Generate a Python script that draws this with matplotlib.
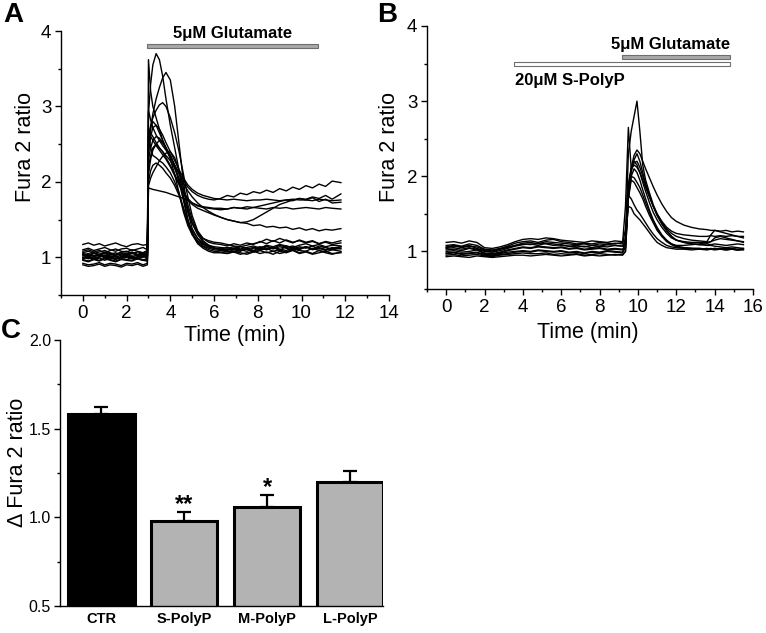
import matplotlib
matplotlib.use('Agg')
import matplotlib.pyplot as plt
from matplotlib.ticker import MultipleLocator

plt.rcParams['font.family'] = ['Liberation Sans', 'DejaVu Sans']

# ---------------- panel A: 5 uM glutamate alone ----------------
t_a = [0, 0.25, 0.5, 0.75, 1.0, 1.25, 1.5, 1.75, 2.0, 2.25, 2.5, 2.75, 2.95,
       3.0, 3.1, 3.2, 3.35, 3.5, 3.65, 3.8, 4.0, 4.2, 4.4, 4.6, 4.8, 5.0, 5.25, 5.5, 5.75, 6.0,
       6.3, 6.6, 6.9, 7.2, 7.5, 7.8, 8.1, 8.4, 8.7, 9.0, 9.3, 9.6, 9.9, 10.2, 10.5, 10.8, 11.1, 11.4, 11.8]

cells_a = [
    [1.17, 1.19, 1.16, 1.18, 1.15, 1.17, 1.19, 1.16, 1.14, 1.17, 1.18, 1.16, 1.17,
     2.95, 2.82, 2.72, 2.62, 2.55, 2.48, 2.42, 2.33, 2.22, 2.12, 2.02, 1.93, 1.87, 1.82, 1.79, 1.77, 1.76,
     1.78, 1.82, 1.80, 1.85, 1.83, 1.87, 1.85, 1.89, 1.86, 1.91, 1.88, 1.93, 1.90, 1.95, 1.92, 1.97, 1.94, 2.01, 1.99],
    [1.02, 1.04, 1.01, 1.03, 1.05, 1.02, 1.00, 1.03, 1.04, 1.01, 1.03, 1.02, 1.04,
     2.40, 2.60, 2.72, 2.75, 2.70, 2.62, 2.52, 2.40, 2.28, 2.16, 2.05, 1.96, 1.90, 1.85, 1.82, 1.80, 1.78,
     1.77, 1.76, 1.77, 1.76, 1.75, 1.76, 1.76, 1.77, 1.76, 1.75, 1.76, 1.77, 1.76, 1.76, 1.75, 1.77, 1.76, 1.75, 1.76],
    [0.97, 0.95, 0.98, 0.96, 0.99, 0.97, 0.95, 0.98, 0.97, 0.96, 0.99, 0.97, 0.96,
     1.92, 1.91, 1.90, 1.89, 1.88, 1.87, 1.86, 1.84, 1.82, 1.80, 1.78, 1.75, 1.72, 1.69, 1.67, 1.66, 1.65,
     1.65, 1.64, 1.66, 1.65, 1.64, 1.66, 1.65, 1.64, 1.66, 1.65, 1.66, 1.64, 1.65, 1.66, 1.65, 1.64, 1.66, 1.65, 1.64],
    [1.08, 1.10, 1.07, 1.09, 1.06, 1.09, 1.11, 1.08, 1.07, 1.10, 1.08, 1.06, 1.09,
     2.30, 2.45, 2.55, 2.60, 2.58, 2.52, 2.45, 2.35, 2.22, 2.10, 1.98, 1.88, 1.80, 1.72, 1.66, 1.61, 1.57,
     1.53, 1.50, 1.48, 1.46, 1.45, 1.42, 1.43, 1.40, 1.41, 1.39, 1.40, 1.37, 1.39, 1.36, 1.38, 1.35, 1.37, 1.36, 1.38],
    [1.05, 1.03, 1.06, 1.04, 1.07, 1.05, 1.03, 1.06, 1.05, 1.07, 1.04, 1.06, 1.05,
     2.50, 2.60, 2.55, 2.48, 2.42, 2.36, 2.30, 2.20, 2.08, 1.96, 1.85, 1.76, 1.70, 1.65, 1.62, 1.59, 1.56,
     1.53, 1.50, 1.48, 1.46, 1.47, 1.50, 1.55, 1.60, 1.65, 1.70, 1.73, 1.76, 1.78, 1.77, 1.80, 1.78, 1.82, 1.77, 1.84],
    [0.99, 1.01, 0.98, 1.00, 1.02, 0.99, 0.97, 1.00, 1.01, 0.98, 1.00, 1.02, 0.99,
     2.20, 2.35, 2.45, 2.50, 2.45, 2.40, 2.32, 2.22, 2.10, 1.98, 1.87, 1.78, 1.72, 1.68, 1.66, 1.65, 1.64,
     1.63, 1.64, 1.66, 1.65, 1.67, 1.66, 1.68, 1.70, 1.72, 1.74, 1.76, 1.75, 1.78, 1.76, 1.79, 1.74, 1.77, 1.72, 1.73],
    [1.00, 0.98, 1.01, 1.03, 0.99, 1.01, 1.02, 0.99, 1.00, 1.02, 0.98, 1.01, 1.00,
     3.62, 3.20, 3.00, 2.85, 2.70, 2.55, 2.45, 2.30, 2.10, 1.85, 1.60, 1.42, 1.30, 1.22, 1.17, 1.14, 1.12,
     1.11, 1.13, 1.10, 1.14, 1.12, 1.09, 1.13, 1.15, 1.11, 1.14, 1.12, 1.10, 1.14, 1.12, 1.15, 1.11, 1.13, 1.10, 1.12],
    [1.03, 1.05, 1.02, 1.04, 1.01, 1.04, 1.06, 1.03, 1.02, 1.05, 1.03, 1.04, 1.02,
     2.90, 3.30, 3.55, 3.70, 3.62, 3.40, 3.10, 2.75, 2.45, 2.15, 1.80, 1.50, 1.32, 1.20, 1.15, 1.12, 1.10,
     1.09, 1.07, 1.10, 1.08, 1.11, 1.07, 1.09, 1.12, 1.08, 1.10, 1.07, 1.11, 1.09, 1.08, 1.12, 1.09, 1.07, 1.10, 1.08],
    [0.96, 0.94, 0.97, 0.95, 0.98, 0.96, 0.94, 0.97, 0.96, 0.95, 0.98, 0.96, 0.95,
     2.40, 2.70, 2.90, 3.10, 3.25, 3.38, 3.45, 3.35, 3.00, 2.50, 2.00, 1.60, 1.38, 1.25, 1.18, 1.14, 1.12,
     1.11, 1.09, 1.12, 1.10, 1.08, 1.12, 1.14, 1.10, 1.13, 1.11, 1.09, 1.13, 1.11, 1.14, 1.10, 1.12, 1.09, 1.13, 1.11],
    [1.06, 1.08, 1.05, 1.07, 1.09, 1.06, 1.04, 1.07, 1.08, 1.05, 1.07, 1.06, 1.08,
     2.60, 2.75, 2.85, 2.95, 3.02, 3.05, 3.00, 2.85, 2.65, 2.40, 2.10, 1.80, 1.55, 1.35, 1.25, 1.20, 1.18,
     1.17, 1.15, 1.18, 1.16, 1.19, 1.17, 1.21, 1.18, 1.22, 1.19, 1.23, 1.20, 1.22, 1.19, 1.21, 1.18, 1.20, 1.17, 1.19],
    [0.92, 0.90, 0.91, 0.93, 0.90, 0.92, 0.91, 0.89, 0.92, 0.91, 0.93, 0.90, 0.92,
     2.50, 2.72, 2.80, 2.75, 2.65, 2.55, 2.45, 2.35, 2.20, 2.00, 1.75, 1.50, 1.32, 1.20, 1.14, 1.10, 1.08,
     1.07, 1.05, 1.08, 1.06, 1.04, 1.07, 1.09, 1.06, 1.08, 1.05, 1.07, 1.10, 1.06, 1.08, 1.05, 1.09, 1.06, 1.04, 1.07],
    [1.10, 1.12, 1.09, 1.11, 1.13, 1.10, 1.08, 1.11, 1.12, 1.09, 1.11, 1.13, 1.10,
     2.10, 2.30, 2.42, 2.50, 2.55, 2.52, 2.45, 2.35, 2.20, 2.02, 1.80, 1.60, 1.45, 1.32, 1.25, 1.22, 1.20,
     1.19, 1.17, 1.15, 1.14, 1.16, 1.18, 1.20, 1.24, 1.21, 1.25, 1.22, 1.19, 1.23, 1.20, 1.22, 1.18, 1.21, 1.19, 1.22],
    [0.98, 1.00, 0.97, 0.99, 0.96, 0.99, 1.01, 0.98, 0.97, 1.00, 0.98, 0.96, 0.99,
     1.95, 2.05, 2.12, 2.20, 2.28, 2.34, 2.38, 2.40, 2.32, 2.15, 1.92, 1.70, 1.50, 1.33, 1.22, 1.16, 1.12,
     1.10, 1.08, 1.07, 1.09, 1.11, 1.08, 1.12, 1.10, 1.13, 1.09, 1.15, 1.12, 1.10, 1.14, 1.11, 1.13, 1.10, 1.12, 1.14],
    [0.90, 0.88, 0.89, 0.91, 0.88, 0.90, 0.89, 0.87, 0.90, 0.89, 0.91, 0.88, 0.90,
     2.70, 2.45, 2.35, 2.32, 2.28, 2.25, 2.20, 2.12, 2.00, 1.85, 1.65, 1.45, 1.30, 1.18, 1.12, 1.08, 1.06,
     1.06, 1.05, 1.07, 1.04, 1.06, 1.08, 1.05, 1.07, 1.04, 1.08, 1.06, 1.09, 1.05, 1.07, 1.04, 1.06, 1.08, 1.05, 1.06],
    [1.00, 1.02, 0.99, 1.01, 1.03, 1.00, 0.98, 1.01, 1.02, 0.99, 1.01, 1.00, 1.02,
     2.00, 2.15, 2.22, 2.25, 2.22, 2.18, 2.12, 2.05, 1.95, 1.82, 1.65, 1.48, 1.35, 1.25, 1.18, 1.14, 1.12,
     1.11, 1.10, 1.12, 1.09, 1.11, 1.13, 1.10, 1.14, 1.12, 1.16, 1.13, 1.15, 1.12, 1.14, 1.11, 1.15, 1.13, 1.11, 1.14],
    [1.04, 1.02, 1.05, 1.03, 1.06, 1.04, 1.02, 1.05, 1.04, 1.06, 1.03, 1.05, 1.04,
     2.50, 2.65, 2.60, 2.52, 2.45, 2.40, 2.35, 2.28, 2.18, 2.05, 1.88, 1.65, 1.45, 1.30, 1.20, 1.16, 1.14,
     1.13, 1.12, 1.14, 1.11, 1.13, 1.15, 1.12, 1.16, 1.14, 1.17, 1.15, 1.13, 1.16, 1.18, 1.15, 1.17, 1.14, 1.16, 1.15],
]
glu_a = (2.95, 10.75)

# ---------------- panel B: S-PolyP then glutamate ----------------
t_b = [0, 0.4, 0.8, 1.2, 1.6, 2.0, 2.4, 2.8, 3.2, 3.6, 4.0, 4.4, 4.8, 5.2, 5.6, 6.0,
       6.4, 6.8, 7.2, 7.6, 8.0, 8.4, 8.8, 9.2,
       9.35, 9.5, 9.65, 9.8, 9.95, 10.1, 10.25, 10.4, 10.6, 10.8, 11.0, 11.25, 11.5, 11.75, 12.0,
       12.4, 12.8, 13.2, 13.6, 13.8, 14.0, 14.3, 14.6, 14.9, 15.2, 15.5]

cells_b = [
    [1.05, 1.07, 1.06, 1.08, 1.04, 1.01, 0.99, 1.03, 1.06, 1.08, 1.10, 1.09, 1.11, 1.10, 1.08, 1.09,
     1.07, 1.08, 1.06, 1.08, 1.07, 1.09, 1.08, 1.07,
     1.15, 2.30, 2.60, 2.80, 3.00, 2.60, 2.15, 1.95, 1.78, 1.62, 1.50, 1.38, 1.28, 1.20, 1.15,
     1.12, 1.10, 1.09, 1.10, 1.09, 1.10, 1.09, 1.08, 1.09, 1.10, 1.09],
    [1.12, 1.13, 1.11, 1.14, 1.12, 1.05, 1.04, 1.06, 1.09, 1.13, 1.16, 1.17, 1.16, 1.18, 1.17, 1.15,
     1.14, 1.13, 1.12, 1.14, 1.13, 1.12, 1.14, 1.13,
     1.15, 1.85, 2.12, 2.28, 2.35, 2.30, 2.20, 2.10, 1.98, 1.86, 1.75, 1.63, 1.53, 1.45, 1.40,
     1.35, 1.32, 1.30, 1.29, 1.28, 1.28, 1.27, 1.28, 1.26, 1.27, 1.26],
    [1.08, 1.09, 1.07, 1.10, 1.08, 1.03, 1.02, 1.04, 1.07, 1.11, 1.13, 1.14, 1.12, 1.15, 1.16, 1.13,
     1.12, 1.10, 1.11, 1.10, 1.12, 1.11, 1.10, 1.12,
     1.60, 2.65, 2.10, 2.18, 2.20, 2.12, 2.00, 1.88, 1.74, 1.60, 1.48, 1.38, 1.30, 1.24, 1.20,
     1.17, 1.15, 1.14, 1.13, 1.22, 1.28, 1.26, 1.24, 1.22, 1.20, 1.18],
    [1.02, 1.03, 1.01, 1.04, 1.02, 0.98, 0.97, 0.99, 1.02, 1.04, 1.06, 1.05, 1.07, 1.06, 1.05, 1.06,
     1.04, 1.05, 1.03, 1.04, 1.05, 1.03, 1.04, 1.03,
     1.08, 1.75, 2.05, 2.22, 2.30, 2.20, 2.05, 1.90, 1.74, 1.60, 1.48, 1.36, 1.27, 1.20, 1.15,
     1.12, 1.10, 1.09, 1.08, 1.08, 1.07, 1.06, 1.05, 1.06, 1.05, 1.04],
    [0.98, 0.99, 0.97, 0.98, 0.99, 0.96, 0.95, 0.97, 0.99, 1.00, 1.01, 1.00, 1.02, 1.01, 1.00, 1.01,
     0.99, 1.00, 0.98, 1.00, 0.99, 1.01, 1.00, 0.99,
     1.05, 1.80, 2.10, 2.20, 2.15, 2.05, 1.92, 1.80, 1.65, 1.52, 1.42, 1.32, 1.24, 1.18, 1.15,
     1.13, 1.12, 1.12, 1.11, 1.13, 1.18, 1.20, 1.18, 1.16, 1.14, 1.13],
    [0.95, 0.96, 0.94, 0.95, 0.96, 0.94, 0.93, 0.95, 0.96, 0.97, 0.98, 0.97, 0.97, 0.98, 0.96, 0.97,
     0.96, 0.97, 0.95, 0.96, 0.97, 0.96, 0.95, 0.96,
     1.00, 1.70, 2.00, 2.10, 2.05, 1.95, 1.82, 1.70, 1.55, 1.42, 1.32, 1.22, 1.15, 1.10, 1.07,
     1.05, 1.04, 1.04, 1.03, 1.04, 1.03, 1.04, 1.03, 1.04, 1.03, 1.04],
    [1.00, 1.01, 0.99, 1.00, 1.02, 0.97, 0.96, 0.98, 1.01, 1.03, 1.05, 1.04, 1.06, 1.05, 1.04, 1.05,
     1.03, 1.04, 1.02, 1.03, 1.04, 1.02, 1.03, 1.02,
     1.05, 1.75, 2.00, 1.98, 1.92, 1.85, 1.75, 1.65, 1.52, 1.40, 1.30, 1.20, 1.13, 1.09, 1.06,
     1.05, 1.04, 1.04, 1.03, 1.03, 1.04, 1.03, 1.02, 1.03, 1.02, 1.03],
    [0.93, 0.94, 0.93, 0.92, 0.94, 0.93, 0.92, 0.93, 0.94, 0.95, 0.95, 0.94, 0.95, 0.96, 0.95, 0.94,
     0.95, 0.96, 0.94, 0.95, 0.94, 0.95, 0.96, 0.95,
     1.00, 1.70, 1.95, 1.92, 1.85, 1.78, 1.70, 1.60, 1.48, 1.38, 1.28, 1.20, 1.14, 1.10, 1.08,
     1.08, 1.09, 1.10, 1.12, 1.13, 1.15, 1.17, 1.16, 1.15, 1.14, 1.12],
    [1.06, 1.08, 1.05, 1.07, 1.06, 1.02, 1.01, 1.03, 1.05, 1.08, 1.11, 1.12, 1.10, 1.13, 1.12, 1.11,
     1.10, 1.09, 1.10, 1.08, 1.10, 1.09, 1.11, 1.10,
     1.30, 1.75, 1.70, 1.62, 1.55, 1.50, 1.44, 1.38, 1.30, 1.23, 1.17, 1.12, 1.08, 1.06, 1.05,
     1.04, 1.04, 1.03, 1.04, 1.03, 1.04, 1.03, 1.04, 1.03, 1.02, 1.03],
    [0.97, 0.98, 0.96, 0.97, 0.98, 0.95, 0.94, 0.96, 0.97, 0.99, 1.00, 0.99, 1.01, 1.00, 0.99, 1.00,
     0.98, 0.99, 0.97, 0.99, 0.98, 1.00, 0.99, 0.98,
     1.20, 1.60, 1.58, 1.50, 1.46, 1.42, 1.37, 1.32, 1.25, 1.18, 1.12, 1.08, 1.05, 1.04, 1.03,
     1.03, 1.02, 1.03, 1.02, 1.03, 1.02, 1.03, 1.02, 1.03, 1.02, 1.02],
    [1.04, 1.05, 1.03, 1.05, 1.03, 1.00, 0.99, 1.01, 1.04, 1.07, 1.09, 1.10, 1.08, 1.11, 1.10, 1.08,
     1.07, 1.06, 1.07, 1.05, 1.07, 1.06, 1.08, 1.07,
     1.10, 1.90, 2.10, 2.15, 2.12, 2.05, 1.95, 1.85, 1.72, 1.60, 1.50, 1.40, 1.32, 1.27, 1.24,
     1.22, 1.21, 1.20, 1.20, 1.21, 1.20, 1.21, 1.20, 1.21, 1.20, 1.20],
]
glu_b = (9.15, 14.8)
polyp_b = (3.55, 14.8)

# ---------------- panel C: peak amplitude ----------------
groups = ['CTR', 'S-PolyP', 'M-PolyP', 'L-PolyP']
delta = [1.58, 0.98, 1.06, 1.20]
sem = [0.04, 0.05, 0.065, 0.06]
stars = ['', '**', '*', '']

W, H = 766, 633
fig = plt.figure(figsize=(W / 100, H / 100), dpi=100)


def box(l, t, r, b):
    return [l / W, 1 - b / H, (r - l) / W, (b - t) / H]


def style(ax):
    ax.patch.set_facecolor('none')
    for s in ['top', 'right']:
        ax.spines[s].set_visible(False)
    for s in ['left', 'bottom']:
        ax.spines[s].set_linewidth(1.0)
    ax.tick_params(which='major', direction='out', length=4, width=1, labelsize=13.5, pad=3)
    ax.tick_params(which='minor', direction='out', length=2.5, width=1)


axA = fig.add_axes(box(61, 31, 389, 295))
for y in cells_a:
    axA.plot(t_a, y, color='black', lw=1.0)
axA.barh(3.8, glu_a[1] - glu_a[0], left=glu_a[0], height=0.055,
         color='#a9a9a9', edgecolor='#6e6e6e', lw=0.8)
axA.text(sum(glu_a) / 2, 3.97, '5\u03bcM Glutamate', ha='center', va='center',
         fontsize=12, fontweight='bold')
axA.set_xlim(-1, 14)
axA.set_ylim(0.5, 4)
axA.xaxis.set_major_locator(MultipleLocator(2))
axA.xaxis.set_minor_locator(MultipleLocator(1))
axA.yaxis.set_major_locator(MultipleLocator(1))
axA.yaxis.set_minor_locator(MultipleLocator(0.5))
style(axA)
axA.set_xlabel('Time (min)', fontsize=15.5)
axA.set_ylabel('Fura 2 ratio', fontsize=15.5)
axA.xaxis.set_label_coords(0.53, -0.114)
axA.yaxis.set_label_coords(-0.076, 0.56)

axB = fig.add_axes(box(427, 26, 753, 289))
for y in cells_b:
    axB.plot(t_b, y, color='black', lw=1.0)
axB.barh(3.59, glu_b[1] - glu_b[0], left=glu_b[0], height=0.055,
         color='#a9a9a9', edgecolor='#6e6e6e', lw=0.8)
axB.barh(3.5, polyp_b[1] - polyp_b[0], left=polyp_b[0], height=0.055,
         color='white', edgecolor='#6e6e6e', lw=0.8)
axB.text(glu_b[1], 3.75, '5\u03bcM Glutamate', ha='right', va='center',
         fontsize=12, fontweight='bold')
axB.text(polyp_b[0] + 0.05, 3.28, '20\u03bcM S-PolyP', ha='left', va='center',
         fontsize=12, fontweight='bold')
axB.set_xlim(-1, 16)
axB.set_ylim(0.5, 4)
axB.xaxis.set_major_locator(MultipleLocator(2))
axB.xaxis.set_minor_locator(MultipleLocator(1))
axB.yaxis.set_major_locator(MultipleLocator(1))
axB.yaxis.set_minor_locator(MultipleLocator(0.5))
style(axB)
axB.set_xlabel('Time (min)', fontsize=15.5)
axB.set_ylabel('Fura 2 ratio', fontsize=15.5)
axB.xaxis.set_label_coords(0.494, -0.125)
axB.yaxis.set_label_coords(-0.083, 0.54)

axC = fig.add_axes(box(60, 340, 383, 606))
x = range(len(groups))
axC.bar(x, delta, width=0.8, color=['black', '#b3b3b3', '#b3b3b3', '#b3b3b3'],
        edgecolor='black', lw=2.2, zorder=2)
axC.errorbar(x, delta, yerr=[[0] * len(sem), sem], fmt='none', ecolor='black',
             elinewidth=1.6, capsize=5, capthick=1.6, zorder=1)
for i, s in enumerate(stars):
    if s:
        axC.text(i, delta[i] + sem[i] + 0.045, s, ha='center', va='center',
                 fontsize=17, fontweight='bold')
axC.set_xlim(-0.5, 3.4)
axC.set_ylim(0.5, 2.0)
axC.set_xticks(list(x))
axC.set_xticklabels(groups, fontweight='bold', fontsize=10.5)
axC.yaxis.set_major_locator(MultipleLocator(0.5))
axC.yaxis.set_minor_locator(MultipleLocator(0.25))
axC.yaxis.set_major_formatter(plt.FormatStrFormatter('%.1f'))
style(axC)
axC.tick_params(axis='y', labelsize=11.5, pad=2.5)
axC.tick_params(axis='x', length=0, pad=4, labelsize=10.5)
axC.set_ylabel('\u0394 Fura 2 ratio', fontsize=15.5)
axC.yaxis.set_label_coords(-0.1, 0.54)

fig.text(13 / W, 1 - 15 / H, 'A', fontsize=20, fontweight='bold', ha='center', va='center')
fig.text(387 / W, 1 - 15 / H, 'B', fontsize=20, fontweight='bold', ha='center', va='center')
fig.text(11 / W, 1 - 331 / H, 'C', fontsize=20, fontweight='bold', ha='center', va='center')

fig.savefig('out.png', dpi=100)
